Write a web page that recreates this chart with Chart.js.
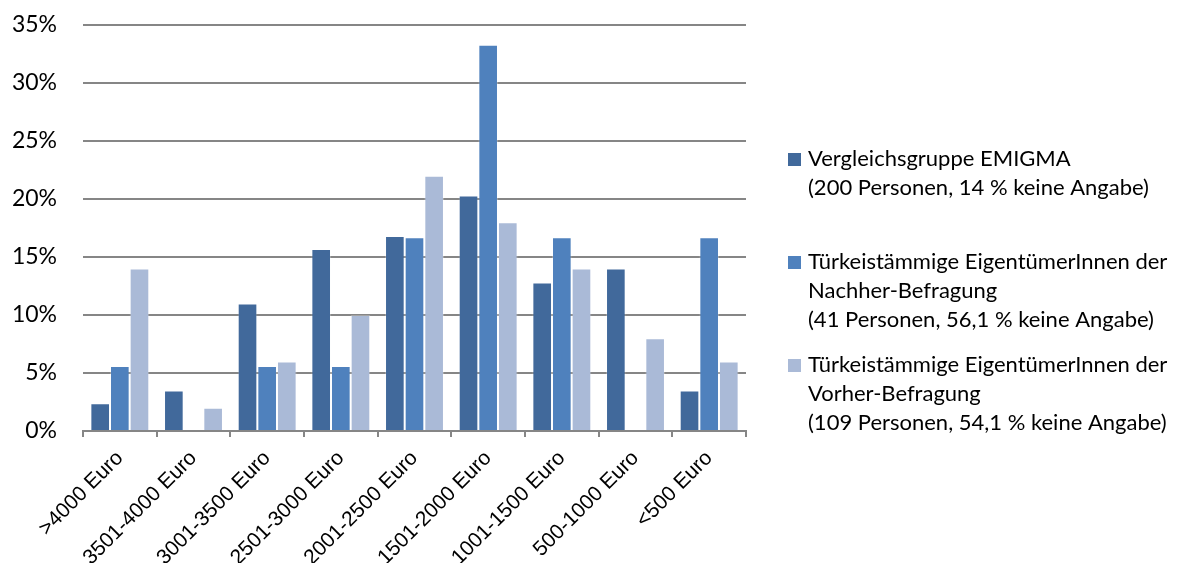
<!DOCTYPE html>
<html lang="de">
<head>
<meta charset="utf-8">
<title>Haushaltsnettoeinkommen</title>
<script src="https://cdn.jsdelivr.net/npm/chart.js@4.4.1/dist/chart.umd.min.js"></script>
<style>
  html, body { margin: 0; padding: 0; background: #fff; }
  #wrap { position: relative; width: 1184px; height: 563px; }
</style>
</head>
<body>
<div id="wrap"><canvas id="chart"></canvas></div>
<script>
// Einkommensklassen (x-Achse)
const categories = ['>4000 Euro', '3501-4000 Euro', '3001-3500 Euro', '2501-3000 Euro',
  '2001-2500 Euro', '1501-2000 Euro', '1001-1500 Euro', '500-1000 Euro', '<500 Euro'];

// Anteile in Prozent
const emigma  = [2.4, 3.5, 11.0, 15.7, 16.8, 20.3, 12.8, 14.0, 3.5];
const nachher = [5.6, 0, 5.6, 5.6, 16.7, 33.3, 16.7, 0, 16.7];
const vorher  = [14.0, 2.0, 6.0, 10.0, 22.0, 18.0, 14.0, 8.0, 6.0];

// y-Achse
const yTicks = [0, 5, 10, 15, 20, 25, 30, 35];

// Legendentexte, zeilenweise
const legendEmigma  = ['Vergleichsgruppe EMIGMA', '(200 Personen, 14 % keine Angabe)'];
const legendNachher = ['Türkeistämmige EigentümerInnen der', 'Nachher-Befragung', '(41 Personen, 56,1 % keine Angabe)'];
const legendVorher  = ['Türkeistämmige EigentümerInnen der', 'Vorher-Befragung', '(109 Personen, 54,1 % keine Angabe)'];

const colors = ['#41699b', '#4f81bd', '#aabad7'];
const GRID = '#868686';
const SANS = 'Lato, "Open Sans", sans-serif';

// Legende rechts neben dem Diagramm, mehrzeilig
const sideLegend = {
  id: 'sideLegend',
  afterDraw(chart) {
    const { ctx, chartArea } = chart;
    const x = chartArea.right + 42;
    ctx.save();
    ctx.font = '22px ' + SANS;
    ctx.textBaseline = 'middle';
    chart.data.datasets.forEach((ds, i) => {
      const y0 = 159 + i * 103;
      ctx.fillStyle = ds.backgroundColor;
      ctx.fillRect(x, y0 - 6, 13, 13);
      ctx.fillStyle = '#000';
      ds.legendLines.forEach((line, j) => ctx.fillText(line, x + 20, y0 + j * 29));
    });
    ctx.restore();
  }
};

new Chart(document.getElementById('chart'), {
  type: 'bar',
  data: {
    labels: categories,
    datasets: [
      { label: legendEmigma.join(' '), legendLines: legendEmigma, data: emigma,
        backgroundColor: colors[0], borderColor: 'rgba(255,255,255,0.25)', borderWidth: 1 },
      { label: legendNachher.join(' '), legendLines: legendNachher, data: nachher,
        backgroundColor: colors[1], borderColor: 'rgba(255,255,255,0.25)', borderWidth: 1 },
      { label: legendVorher.join(' '), legendLines: legendVorher, data: vorher,
        backgroundColor: colors[2], borderColor: 'rgba(255,255,255,0.25)', borderWidth: 1 }
    ]
  },
  options: {
    responsive: true,
    maintainAspectRatio: false,
    animation: false,
    layout: { padding: { top: 25, right: 438, left: 0, bottom: 0 } },
    datasets: { bar: { categoryPercentage: 0.8, barPercentage: 1.0 } },
    plugins: {
      legend: { display: false },
      tooltip: { enabled: false }
    },
    scales: {
      x: {
        grid: { offset: true, drawOnChartArea: false, drawTicks: true, tickLength: 6, color: GRID, lineWidth: 2 },
        border: { display: true, color: GRID, width: 2 },
        ticks: {
          color: '#000', maxRotation: 45, minRotation: 45, padding: 9, autoSkip: false,
          font: { family: '"Liberation Sans", Arial, sans-serif', size: 21 }
        },
        afterFit(scale) {
          scale.height = 132;
          scale.paddingTop = 0;
          scale.paddingBottom = 0;
        }
      },
      y: {
        min: 0, max: 35,
        afterBuildTicks(scale) { scale.ticks = yTicks.map(v => ({ value: v })); },
        grid: { drawTicks: false, color: GRID, lineWidth: 2 },
        border: { display: false },
        ticks: {
          color: '#000', padding: 26,
          font: { family: SANS, size: 23 },
          callback: v => v + '%'
        },
        afterFit(scale) {
          scale.width = 83;
          scale.paddingTop = 0;
          scale.paddingBottom = 0;
        }
      }
    }
  },
  plugins: [sideLegend]
});
</script>
</body>
</html>
